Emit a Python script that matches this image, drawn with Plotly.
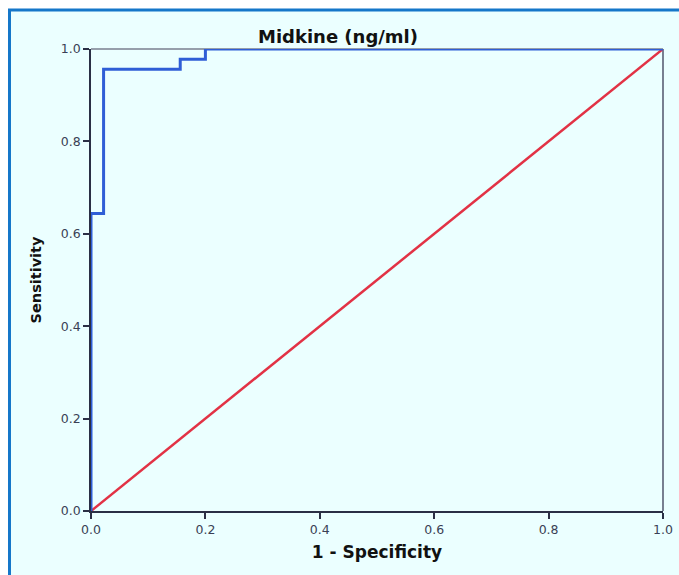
import plotly.graph_objects as go

# ROC curve data (1 - specificity, sensitivity)
fpr = [0.0, 0.0, 0.022, 0.022, 0.156, 0.156, 0.200, 0.200, 1.0]
tpr = [0.0, 0.644, 0.644, 0.956, 0.956, 0.978, 0.978, 1.0, 1.0]
ref_x = [0.0, 1.0]
ref_y = [0.0, 1.0]
tick_vals = [0.0, 0.2, 0.4, 0.6, 0.8, 1.0]
tick_text = ["0.0", "0.2", "0.4", "0.6", "0.8", "1.0"]

BG = "#EBFFFF"
FONT = "DejaVu Sans, Liberation Sans, Arial, sans-serif"

fig = go.Figure()
fig.add_trace(go.Scatter(x=ref_x, y=ref_y, mode="lines",
                         line=dict(color="#E23245", width=2.5),
                         hoverinfo="skip", showlegend=False))
fig.add_trace(go.Scatter(x=fpr, y=tpr, mode="lines",
                         line=dict(color="#2F5ED6", width=3),
                         showlegend=False))

L, R, T, B = 91, 16, 49, 64
W, H = 679, 575
pw, ph = W - L - R, H - T - B

def px2x(px):
    return (px - L) / pw

def py2y(py):
    return (H - B - py) / ph

# outer framed panel
fig.add_shape(type="rect", xref="paper", yref="paper",
              x0=px2x(9.5), x1=px2x(720), y0=py2y(10), y1=py2y(620),
              fillcolor=BG, line=dict(color="#1577C9", width=3), layer="below")

axis_common = dict(range=[0, 1], tickvals=tick_vals, ticktext=tick_text,
                   ticks="outside", ticklen=6, tickwidth=1.5, tickcolor="#2A2F45",
                   showgrid=False, zeroline=False, showline=True,
                   linecolor="#2A2F45", linewidth=1.5, mirror=False,
                   tickfont=dict(family=FONT, size=12.5, color="#3A3F55"),
                   fixedrange=True, automargin=False)

fig.update_xaxes(**axis_common,
                 title=dict(text="<b>1 - Specificity</b>",
                            font=dict(family=FONT, size=17, color="#111111"),
                            standoff=10))
fig.update_yaxes(**axis_common,
                 title=dict(text="<b>Sensitivity</b>",
                            font=dict(family=FONT, size=14.5, color="#111111"),
                            standoff=16))

# gray mirror frame top and right
fig.add_shape(type="line", xref="paper", yref="paper", x0=0, x1=1, y0=1, y1=1,
              line=dict(color="#7A7F8F", width=1.3), layer="below")
fig.add_shape(type="line", xref="paper", yref="paper", x0=1, x1=1, y0=0, y1=1,
              line=dict(color="#5A6075", width=1.6), layer="below")

fig.update_layout(
    width=W, height=H,
    autosize=False,
    margin=dict(l=L, r=R, t=T, b=B, autoexpand=False),
    paper_bgcolor="white",
    plot_bgcolor=BG,
    title=dict(text="<b>Midkine (ng/ml)</b>", x=338 / W,
               xanchor="center", y=1 - 37 / H, yanchor="middle",
               font=dict(family=FONT, size=18, color="#111111")),
)

fig.write_html("out.html",
               config={"displayModeBar": False},
               post_script="document.body.style.margin='0px';document.body.style.overflow='hidden';")
